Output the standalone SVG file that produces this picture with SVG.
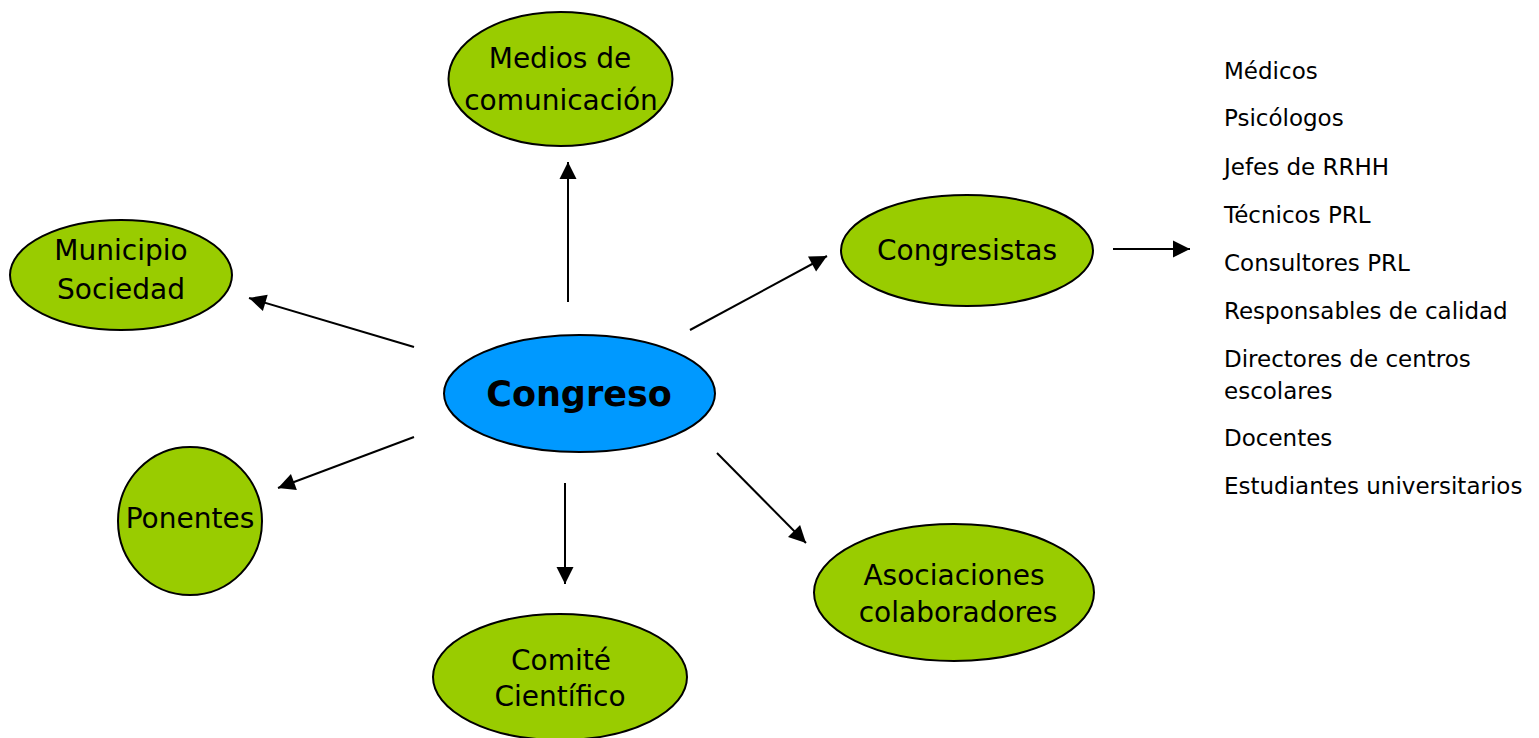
<svg xmlns="http://www.w3.org/2000/svg" width="1539" height="738" viewBox="0 0 1539 738">
<style>
.n{fill:#99cc00;stroke:#000;stroke-width:2}
.c{fill:#0099ff;stroke:#000;stroke-width:2}
.t{font-family:"DejaVu Sans",sans-serif;font-size:28px;fill:#000;text-anchor:middle}
.b{font-weight:bold;font-size:35px}
.l{font-family:"DejaVu Sans",sans-serif;font-size:23px;fill:#000}
.e{stroke:#000;stroke-width:2;fill:none;marker-end:url(#ah)}
</style>
<defs>
<marker id="ah" markerWidth="20" markerHeight="20" refX="17" refY="8.5" orient="auto" markerUnits="userSpaceOnUse" overflow="visible">
<path d="M0,0 L17,8.5 L0,17 Z" fill="#000"/>
</marker>
</defs>
<rect width="1539" height="738" fill="#fff"/>
<g id="connectors">
<line class="e" x1="568" y1="302" x2="568" y2="162"/>
<line class="e" x1="414" y1="347" x2="249" y2="298"/>
<line class="e" x1="414" y1="437" x2="278" y2="488"/>
<line class="e" x1="565" y1="483" x2="565" y2="584"/>
<line class="e" x1="717" y1="453" x2="806" y2="543"/>
<line class="e" x1="690" y1="330" x2="827" y2="256"/>
<line class="e" x1="1113" y1="249" x2="1190" y2="249"/>
</g>
<g id="medios">
<ellipse class="n" cx="560.5" cy="79" rx="112" ry="67"/>
<text class="t" x="560" y="68">Medios de</text>
<text class="t" x="561" y="110">comunicación</text>
</g>
<g id="municipio">
<ellipse class="n" cx="121" cy="275" rx="111" ry="55"/>
<text class="t" x="121" y="260">Municipio</text>
<text class="t" x="121" y="299">Sociedad</text>
</g>
<g id="ponentes">
<ellipse class="n" cx="190" cy="521" rx="72" ry="74"/>
<text class="t" x="190" y="528">Ponentes</text>
</g>
<g id="congreso">
<ellipse class="c" cx="579.5" cy="393.5" rx="135.5" ry="58.5"/>
<text class="t b" x="579" y="406">Congreso</text>
</g>
<g id="congresistas">
<ellipse class="n" cx="967" cy="250.5" rx="126" ry="55.5"/>
<text class="t" x="967" y="260">Congresistas</text>
</g>
<g id="asociaciones">
<ellipse class="n" cx="954" cy="592.5" rx="140" ry="68.5"/>
<text class="t" x="954" y="585">Asociaciones</text>
<text class="t" x="958" y="622">colaboradores</text>
</g>
<g id="comite">
<ellipse class="n" cx="560" cy="677" rx="127" ry="63"/>
<text class="t" x="561" y="670">Comité</text>
<text class="t" x="560" y="706">Científico</text>
</g>
<g id="lista">
<text class="l" x="1224" y="79">Médicos</text>
<text class="l" x="1224" y="126">Psicólogos</text>
<text class="l" x="1224" y="175">Jefes de RRHH</text>
<text class="l" x="1224" y="223">Técnicos PRL</text>
<text class="l" x="1224" y="271">Consultores PRL</text>
<text class="l" x="1224" y="319">Responsables de calidad</text>
<text class="l" x="1224" y="367">Directores de centros</text>
<text class="l" x="1224" y="399">escolares</text>
<text class="l" x="1224" y="446">Docentes</text>
<text class="l" x="1224" y="494">Estudiantes universitarios</text>
</g>
</svg>
